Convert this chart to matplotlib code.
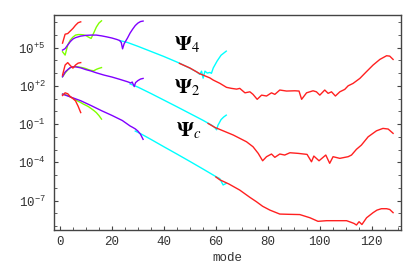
# spectral coefficients |a_n| vs mode for Psi_4, Psi_2, Psi_c at several resolutions

import numpy as np
import matplotlib.pyplot as plt
from matplotlib.ticker import FixedLocator, MultipleLocator, NullFormatter, FixedFormatter

# colours per resolution
c8 = '#ff2020'
c16 = '#80ff00'
c32 = '#8000ff'
c64 = '#00ffff'
c128 = '#ff2020'

# ---- data (log10 of coefficient) ----
# Psi_4
p4_n8_x = [1, 2, 3, 4, 5, 6, 7, 8]
p4_n8_y = [5.35, 6.05, 6.1, 6.3, 6.5, 6.75, 6.95, 7.02]
p4_n16_x = list(range(1, 17))
p4_n16_y = [4.67, 4.41, 5.2, 5.59, 5.82, 5.98, 6.02, 6.02, 6.0, 5.94, 5.82,
            5.72, 6.14, 6.6, 6.92, 7.1]
p4_n32_x = [1, 2, 3, 4, 5, 6, 8, 10, 12, 14, 16, 18, 20, 22, 23, 23.6, 24.1,
            24.7, 26, 27, 28, 29, 30, 31, 32]
p4_n32_y = [4.8, 4.92, 5.2, 5.47, 5.67, 5.78, 5.9, 5.96, 5.98, 5.98, 5.92, 5.84,
            5.75, 5.63, 5.55, 5.4, 4.9, 5.3, 5.75, 6.14, 6.45, 6.73, 6.92, 7.04, 7.08]
p4_n64_x = [23, 24, 26, 30, 35, 40, 46, 50, 52.6, 53.8, 54.5, 55.1, 55.8, 56.7,
            57.7, 58.3, 59, 60.5, 62, 64]
p4_n64_y = [5.55, 5.5, 5.4, 5.1, 4.7, 4.3, 3.78, 3.38, 3.1, 2.9, 3.15, 2.6, 3.15,
            3.0, 3.05, 2.98, 3.4, 3.95, 4.4, 4.72]
p4_n128_x = [46, 50, 53.8, 57.7, 59, 61.5, 64.1, 66, 68, 69.2, 71.2, 73.1, 74.3,
             75.9, 77.6, 79.5, 81.4, 82.7, 84.6, 87.2, 90.4, 92, 93, 94.9, 97.4,
             98.7, 100, 101.9, 103.2, 104.5, 106, 107.7, 109.6, 110.9, 112.8,
             115.4, 117.9, 120.5, 123.1, 125.7, 126.9, 128.2]
p4_n128_y = [3.76, 3.4, 2.95, 2.62, 2.45, 2.2, 1.88, 1.8, 1.74, 1.8, 1.45, 1.53,
             1.33, 0.94, 1.27, 1.2, 1.45, 1.33, 1.67, 1.59, 1.61, 1.59, 0.94, 1.45,
             1.61, 1.53, 1.27, 1.67, 1.41, 1.53, 1.2, 1.53, 1.72, 2.0, 2.19, 2.58,
             3.1, 3.63, 4.07, 4.36, 4.33, 4.07]

# Psi_2
p2_n8_x = [1, 2, 3, 4, 5, 6, 7, 8]
p2_n8_y = [2.84, 3.63, 3.82, 3.59, 3.39, 3.63, 3.78, 3.82]
p2_n16_x = list(range(1, 17))
p2_n16_y = [2.71, 3.0, 3.24, 3.43, 3.49, 3.51, 3.49, 3.45, 3.41, 3.35, 3.27,
            3.21, 3.18, 3.29, 3.37, 3.43]
p2_n32_x = [1, 2, 3, 4, 5, 6, 8, 10, 12, 14, 17, 20, 23, 26, 27.3, 27.8, 28.6,
            29.1, 30, 31, 32]
p2_n32_y = [2.71, 3.08, 3.27, 3.43, 3.49, 3.49, 3.41, 3.27, 3.16, 3.02, 2.84,
            2.69, 2.51, 2.32, 2.22, 2.3, 1.94, 2.25, 2.41, 2.53, 2.58]
p2_n64_x = [27, 30, 35, 40, 45, 50, 55, 58.5, 59.5, 60.3, 60.8, 62, 63, 64]
p2_n64_y = [2.15, 1.9, 1.4, 0.88, 0.36, -0.17, -0.7, -1.1, -1.25, -1.45, -1.1,
            -0.65, -0.45, -0.3]
p2_n128_x = [57, 59.6, 61.5, 66.7, 71.8, 74.3, 76.3, 78, 79.5, 81.4, 82.7, 84.6,
             86.5, 88.5, 91.7, 95.1, 96.8, 97.7, 99.7, 102.3, 103.8, 105.1, 107.7,
             110.9, 112.2, 114.1, 116, 118.6, 121.8, 124.3, 126.3, 128.2]
p2_n128_y = [-0.95, -1.26, -1.42, -1.86, -2.39, -2.78, -3.3, -3.88, -3.56, -3.35,
             -3.61, -3.35, -3.43, -3.25, -3.3, -3.38, -3.96, -3.51, -3.88, -3.43,
             -4.08, -3.56, -3.69, -3.56, -3.43, -2.98, -2.65, -2.0, -1.53, -1.34,
             -1.39, -1.73]

# Psi_c
pc_n8_x = [1, 2, 3, 4, 5, 6, 7, 8]
pc_n8_y = [1.24, 1.45, 1.38, 1.15, 1.0, 0.82, 0.4, -0.1]
pc_n16_x = list(range(1, 17))
pc_n16_y = [1.35, 1.31, 1.24, 1.13, 1.02, 0.9, 0.79, 0.69, 0.57, 0.47, 0.36,
            0.22, 0.07, -0.1, -0.33, -0.61]
pc_n32_x = [1, 4, 8, 12, 16, 20, 24, 27, 28, 29, 30, 31, 32]
pc_n32_y = [1.35, 1.13, 0.83, 0.45, 0.05, -0.32, -0.72, -1.15, -1.26, -1.38,
            -1.55, -1.8, -2.2]
pc_n64_x = [29, 31, 35, 40, 45, 50, 55, 58, 60, 61.5, 62.8, 64]
pc_n64_y = [-1.55, -1.75, -2.2, -2.78, -3.35, -3.93, -4.52, -4.88, -5.12, -5.28,
            -5.78, -5.65]
pc_n128_x = [60, 61.5, 65, 69.2, 73.1, 75.6, 78, 80.8, 84.6, 88, 92.3, 96.2,
             99.3, 102.6, 107.7, 110.3, 112.2, 113.2, 114.1, 115.1, 116.2, 118,
             120.5, 122, 123.7, 125.7, 126.9, 128.2]
pc_n128_y = [-5.15, -5.37, -5.7, -6.18, -6.75, -7.09, -7.45, -7.75, -8.06, -8.08,
             -8.1, -8.35, -8.63, -8.58, -8.58, -8.58, -8.72, -8.8, -8.92, -8.66,
             -8.88, -8.35, -7.95, -7.75, -7.64, -7.64, -7.7, -7.95]

labels = [r'$\mathbf{\Psi}_4$', r'$\mathbf{\Psi}_2$', r'$\mathbf{\Psi}_c$']
label_x = [44, 44, 44.5]
label_y = [5.2, 1.82, -1.55]

ytick_vals = [1e-7, 1e-4, 1e-1, 1e2, 1e5]
ytick_text = [r'$\mathregular{10^{-7}}$', r'$\mathregular{10^{-4}}$',
              r'$\mathregular{10^{-1}}$', r'$\mathregular{10^{+2}}$',
              r'$\mathregular{10^{+5}}$']

plt.rcParams['mathtext.fontset'] = 'stix'

fig = plt.figure(figsize=(4.15, 2.74), dpi=100)
ax = fig.add_axes([0.130, 0.1606, 0.836, 0.7844])

groups = [
    (p4_n8_x, p4_n8_y, p4_n16_x, p4_n16_y, p4_n32_x, p4_n32_y, p4_n64_x, p4_n64_y, p4_n128_x, p4_n128_y),
    (p2_n8_x, p2_n8_y, p2_n16_x, p2_n16_y, p2_n32_x, p2_n32_y, p2_n64_x, p2_n64_y, p2_n128_x, p2_n128_y),
    (pc_n8_x, pc_n8_y, pc_n16_x, pc_n16_y, pc_n32_x, pc_n32_y, pc_n64_x, pc_n64_y, pc_n128_x, pc_n128_y),
]

lw = 1.0
for g in groups:
    x8, y8, x16, y16, x32, y32, x64, y64, x128, y128 = g
    ax.plot(x64, 10.0 ** np.array(y64), color=c64, lw=lw)
    ax.plot(x128, 10.0 ** np.array(y128), color=c128, lw=lw)
    ax.plot(x16, 10.0 ** np.array(y16), color=c16, lw=lw)
    ax.plot(x32, 10.0 ** np.array(y32), color=c32, lw=lw)
    ax.plot(x8, 10.0 ** np.array(y8), color=c8, lw=lw)

for t, lx, ly in zip(labels, label_x, label_y):
    ax.text(lx, 10.0 ** ly, t, fontsize=15, ha='left', va='center', color='black')

ax.set_yscale('log')
ax.set_xlim(-2.3, 131.2)
ax.set_ylim(10 ** -9.31, 10 ** 7.55)

ax.xaxis.set_major_locator(MultipleLocator(20))
ax.xaxis.set_minor_locator(MultipleLocator(5))
ax.yaxis.set_major_locator(FixedLocator(ytick_vals))
ax.yaxis.set_major_formatter(FixedFormatter(ytick_text))
ax.yaxis.set_minor_locator(FixedLocator([10.0 ** k for k in range(-9, 8)]))
ax.yaxis.set_minor_formatter(NullFormatter())

mono = 'Liberation Mono'
for lab in ax.get_xticklabels() + ax.get_yticklabels():
    lab.set_fontfamily(mono)
    lab.set_fontsize(9)

ax.tick_params(which='both', direction='in', right=True, top=False,
               colors='#444444', labelcolor='#333333')
ax.tick_params(which='major', length=3, width=0.8)
ax.tick_params(which='minor', length=2, width=0.6)
ax.tick_params(axis='x', pad=4)
ax.tick_params(axis='y', pad=6)

for s in ax.spines.values():
    s.set_color('#444444')
    s.set_linewidth(1.0)

ax.set_xlabel('mode', fontfamily=mono, fontsize=9, color='#333333', labelpad=3)

plt.savefig('out.png', dpi=100)
